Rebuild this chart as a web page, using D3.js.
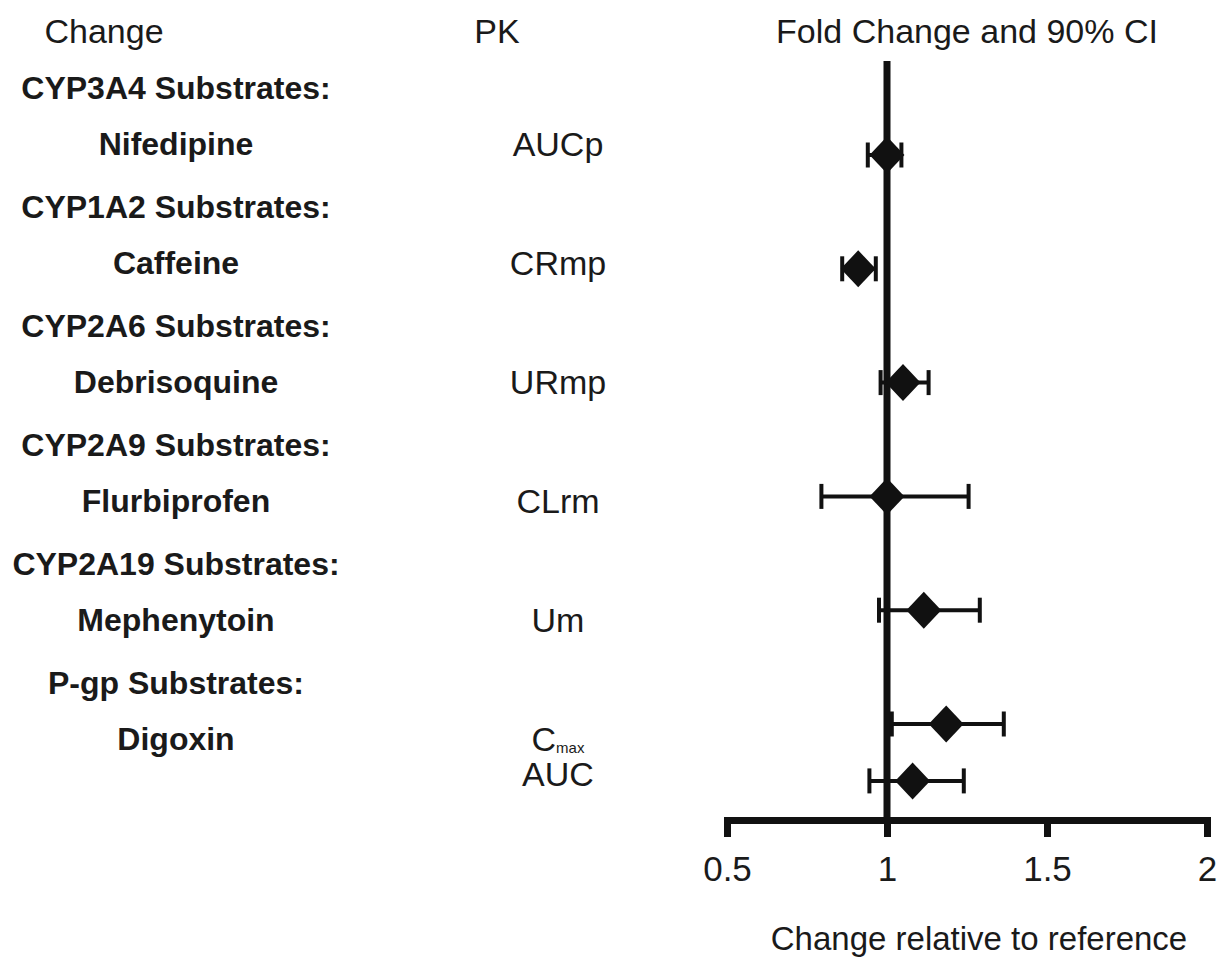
<!DOCTYPE html>
<html>
<head>
<meta charset="utf-8">
<script src="https://cdn.jsdelivr.net/npm/d3@7/dist/d3.min.js"></script>
<style>
  html, body { margin: 0; padding: 0; background: #fff; }
  svg { display: block; }
  text { font-family: "Liberation Sans", Arial, sans-serif; fill: #1a1a1a; }
</style>
</head>
<body>
<svg id="chart" width="1225" height="959"></svg>
<script>
// ---- data ----
const columnHeaders = ["Change", "PK", "Fold Change and 90% CI"];
const groupHeaders = ["CYP3A4 Substrates:", "CYP1A2 Substrates:", "CYP2A6 Substrates:",
                      "CYP2A9 Substrates:", "CYP2A19 Substrates:", "P-gp Substrates:"];
const drugs = ["Nifedipine", "Caffeine", "Debrisoquine", "Flurbiprofen", "Mephenytoin", "Digoxin"];
const pkParams = ["AUCp", "CRmp", "URmp", "CLrm", "Um", "Cmax", "AUC"];
const pkDrug = [0, 1, 2, 3, 4, 5, 5];        // drug each PK parameter belongs to
const pkSubRow = [0, 0, 0, 0, 0, 0, 1];      // second parameter under the same drug
const foldChange = [1.00, 0.91, 1.05, 1.00, 1.115, 1.185, 1.08];
const ciLower    = [0.94, 0.86, 0.98, 0.795, 0.975, 1.015, 0.945];
const ciUpper    = [1.045, 0.965, 1.13, 1.255, 1.29, 1.365, 1.24];
const xTicks = [0.5, 1, 1.5, 2];
const xTitle = "Change relative to reference";

// ---- layout ----
const svg = d3.select("#chart");
const axisY = 820;
const x = d3.scaleLinear().domain([0.5, 2]).range([727, 1207]);
const yText = d3.scaleLinear().domain([0, drugs.length - 1]).range([144, 739]);
const yMark = d3.scaleLinear().domain([0, drugs.length - 1]).range([155, 724]);
const rowPos = (i) => pkDrug[i] + pkSubRow[i] * 0.5;

// column headers
svg.append("text").attr("x", 104).attr("y", 43).attr("text-anchor", "middle")
  .style("font-size", "34px").text(columnHeaders[0]);
svg.append("text").attr("x", 497).attr("y", 43).attr("text-anchor", "middle")
  .style("font-size", "34px").text(columnHeaders[1]);
svg.append("text").attr("x", 967).attr("y", 43).attr("text-anchor", "middle")
  .style("font-size", "34px").text(columnHeaders[2]);

// group headers (bold)
svg.append("g").selectAll("text").data(groupHeaders).join("text")
  .attr("x", 176)
  .attr("y", (d, i) => yText(i) - 56)
  .attr("dy", "0.35em")
  .attr("text-anchor", "middle")
  .style("font-size", "32px").style("font-weight", "bold")
  .text(d => d);

// drug names (bold)
svg.append("g").selectAll("text").data(drugs).join("text")
  .attr("x", 176)
  .attr("y", (d, i) => yText(i))
  .attr("dy", "0.35em")
  .attr("text-anchor", "middle")
  .style("font-size", "32px").style("font-weight", "bold")
  .text(d => d);

// PK parameter labels
const pk = svg.append("g").selectAll("text").data(pkParams).join("text")
  .attr("x", 558)
  .attr("y", (d, i) => yText(pkDrug[i]) + pkSubRow[i] * 35)
  .attr("dy", "0.35em")
  .attr("text-anchor", "middle")
  .style("font-size", "34px");
pk.each(function(d) {
  const t = d3.select(this);
  if (d === "Cmax") {
    t.append("tspan").text("C");
    t.append("tspan").attr("dy", "0.15em").style("font-size", "15px").text("max");
  } else {
    t.text(d);
  }
});

// reference line at 1
svg.append("line")
  .attr("x1", x(1)).attr("x2", x(1))
  .attr("y1", 61).attr("y2", axisY)
  .attr("stroke", "#111").attr("stroke-width", 7);

// x axis
const axis = svg.append("g").attr("transform", `translate(0,${axisY})`)
  .call(d3.axisBottom(x).tickValues(xTicks).tickFormat(d3.format("")).tickSize(17).tickSizeOuter(0).tickPadding(19));
axis.select(".domain").attr("stroke", "#111").attr("stroke-width", 7).attr("stroke-linecap", "square");
axis.selectAll(".tick line").attr("stroke", "#111").attr("stroke-width", 7);
axis.selectAll(".tick text")
  .style("font-family", '"Liberation Sans", Arial, sans-serif')
  .style("font-size", "35px").attr("fill", "#1a1a1a");

svg.append("text").attr("x", 979).attr("y", 950).attr("text-anchor", "middle")
  .style("font-size", "33px").text(xTitle);

// CI bars and markers
const rows = svg.append("g").selectAll("g").data(foldChange).join("g");
rows.append("line")
  .attr("x1", (d, i) => x(ciLower[i])).attr("x2", (d, i) => x(ciUpper[i]))
  .attr("y1", (d, i) => yMark(rowPos(i))).attr("y2", (d, i) => yMark(rowPos(i)))
  .attr("stroke", "#111").attr("stroke-width", 4);
rows.append("line")
  .attr("x1", (d, i) => x(ciLower[i])).attr("x2", (d, i) => x(ciLower[i]))
  .attr("y1", (d, i) => yMark(rowPos(i)) - 12.5).attr("y2", (d, i) => yMark(rowPos(i)) + 12.5)
  .attr("stroke", "#111").attr("stroke-width", 4);
rows.append("line")
  .attr("x1", (d, i) => x(ciUpper[i])).attr("x2", (d, i) => x(ciUpper[i]))
  .attr("y1", (d, i) => yMark(rowPos(i)) - 12.5).attr("y2", (d, i) => yMark(rowPos(i)) + 12.5)
  .attr("stroke", "#111").attr("stroke-width", 4);
rows.append("path")
  .attr("d", d3.symbol(d3.symbolSquare, 610)())
  .attr("transform", (d, i) => `translate(${x(d)},${yMark(rowPos(i))}) scale(1,1.06) rotate(45)`)
  .attr("fill", "#111");
</script>
</body>
</html>
